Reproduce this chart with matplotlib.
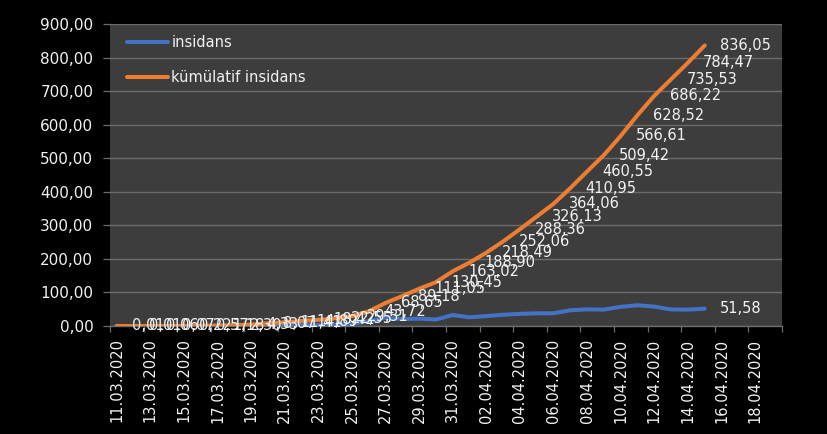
import matplotlib
matplotlib.use("Agg")
import matplotlib.pyplot as plt
from datetime import datetime, timedelta

dates = ["11.03.2020", "12.03.2020", "13.03.2020", "14.03.2020", "15.03.2020", "16.03.2020",
         "17.03.2020", "18.03.2020", "19.03.2020", "20.03.2020", "21.03.2020", "22.03.2020",
         "23.03.2020", "24.03.2020", "25.03.2020", "26.03.2020", "27.03.2020", "28.03.2020",
         "29.03.2020", "30.03.2020", "31.03.2020", "01.04.2020", "02.04.2020", "03.04.2020",
         "04.04.2020", "05.04.2020", "06.04.2020", "07.04.2020", "08.04.2020", "09.04.2020",
         "10.04.2020", "11.04.2020", "12.04.2020", "13.04.2020", "14.04.2020", "15.04.2020"]

insidans = [0.01, 0.00, 0.05, 0.01, 0.15, 0.35, 0.61, 1.12, 2.03, 3.74, 3.34, 3.48,
            3.53, 4.13, 6.76, 14.41, 24.93, 20.53, 21.87, 19.40, 32.57, 25.88, 29.59, 33.57,
            36.30, 37.77, 37.93, 46.89, 49.60, 48.87, 57.19, 61.91, 57.70, 49.31, 48.94, 51.58]

kumulatif = [0.01, 0.01, 0.06, 0.07, 0.22, 0.57, 1.18, 2.30, 4.33, 8.07, 11.41, 14.89,
             18.42, 22.55, 29.31, 43.72, 68.65, 89.18, 111.05, 130.45, 163.02, 188.90, 218.49, 252.06,
             288.36, 326.13, 364.06, 410.95, 460.55, 509.42, 566.61, 628.52, 686.22, 735.53, 784.47, 836.05]

tick_labels = ["11.03.2020", "13.03.2020", "15.03.2020", "17.03.2020", "19.03.2020", "21.03.2020",
               "23.03.2020", "25.03.2020", "27.03.2020", "29.03.2020", "31.03.2020", "02.04.2020",
               "04.04.2020", "06.04.2020", "08.04.2020", "10.04.2020", "12.04.2020", "14.04.2020",
               "16.04.2020", "18.04.2020"]

y_ticks = [0, 100, 200, 300, 400, 500, 600, 700, 800, 900]


def fmt(v):
    return f"{v:.2f}".replace(".", ",")


x = [datetime.strptime(d, "%d.%m.%Y") for d in dates]
xt = [datetime.strptime(d, "%d.%m.%Y") for d in tick_labels]

plt.rcParams["font.family"] = ["DejaVu Sans"]
W, H = 827, 434
fig = plt.figure(figsize=(W / 100, H / 100), dpi=100, facecolor="black")
ax = fig.add_axes([110 / W, 1 - 326 / H, (782 - 110) / W, (326 - 24) / H])
ax.set_facecolor("#3d3d3d")

blue = "#4472C4"
orange = "#ED7D31"
txt = "#f2f2f2"
grid = "#6c6c6c"

ax.plot(x, insidans, color=blue, lw=2.9, solid_capstyle="round", label="insidans", zorder=3)
ax.plot(x, kumulatif, color=orange, lw=2.9, solid_capstyle="round", label="kümülatif insidans", zorder=3)

for xi, v in zip(x, kumulatif):
    ax.annotate(fmt(v), (xi, v), xytext=(11, 0), textcoords="offset points",
                ha="left", va="center", color=txt, fontsize=10.5, zorder=4)
ax.annotate(fmt(insidans[-1]), (x[-1], insidans[-1]), xytext=(11, 0), textcoords="offset points",
            ha="left", va="center", color=txt, fontsize=10.5, zorder=4)

x0 = x[0] - timedelta(days=0.4)
ax.set_xlim(x0, x0 + timedelta(days=40))
ax.set_ylim(0, 900)

ax.set_yticks(y_ticks)
ax.set_yticklabels([fmt(v) for v in y_ticks])
ax.yaxis.grid(True, color=grid, lw=1.0)
ax.set_axisbelow(True)

ax.set_xticks(xt)
ax.set_xticklabels(tick_labels, rotation=90, va="top", ha="center")
ax.set_xticks([x0 + timedelta(days=2 * k) for k in range(21)], minor=True)
ax.tick_params(axis="x", which="major", length=0, pad=9, colors=txt, labelsize=10.5)
ax.tick_params(axis="x", which="minor", length=4.5, width=0.9, color=grid, direction="out")
ax.tick_params(axis="y", which="major", length=5, width=0.9, color=grid, pad=7,
               labelcolor=txt, labelsize=11)

for s in ["top", "right", "left"]:
    ax.spines[s].set_visible(False)
ax.spines["bottom"].set_color(grid)
ax.spines["bottom"].set_linewidth(1.0)

leg = ax.legend(loc="upper left", bbox_to_anchor=(127 / W, 1 - 35 / H), bbox_transform=fig.transFigure,
                frameon=False, borderpad=0, borderaxespad=0, handlelength=2.8, handletextpad=0.25,
                labelspacing=1.35, fontsize=10.5)
for t in leg.get_texts():
    t.set_color(txt)

fig.savefig("out.png", dpi=100, facecolor="black")
